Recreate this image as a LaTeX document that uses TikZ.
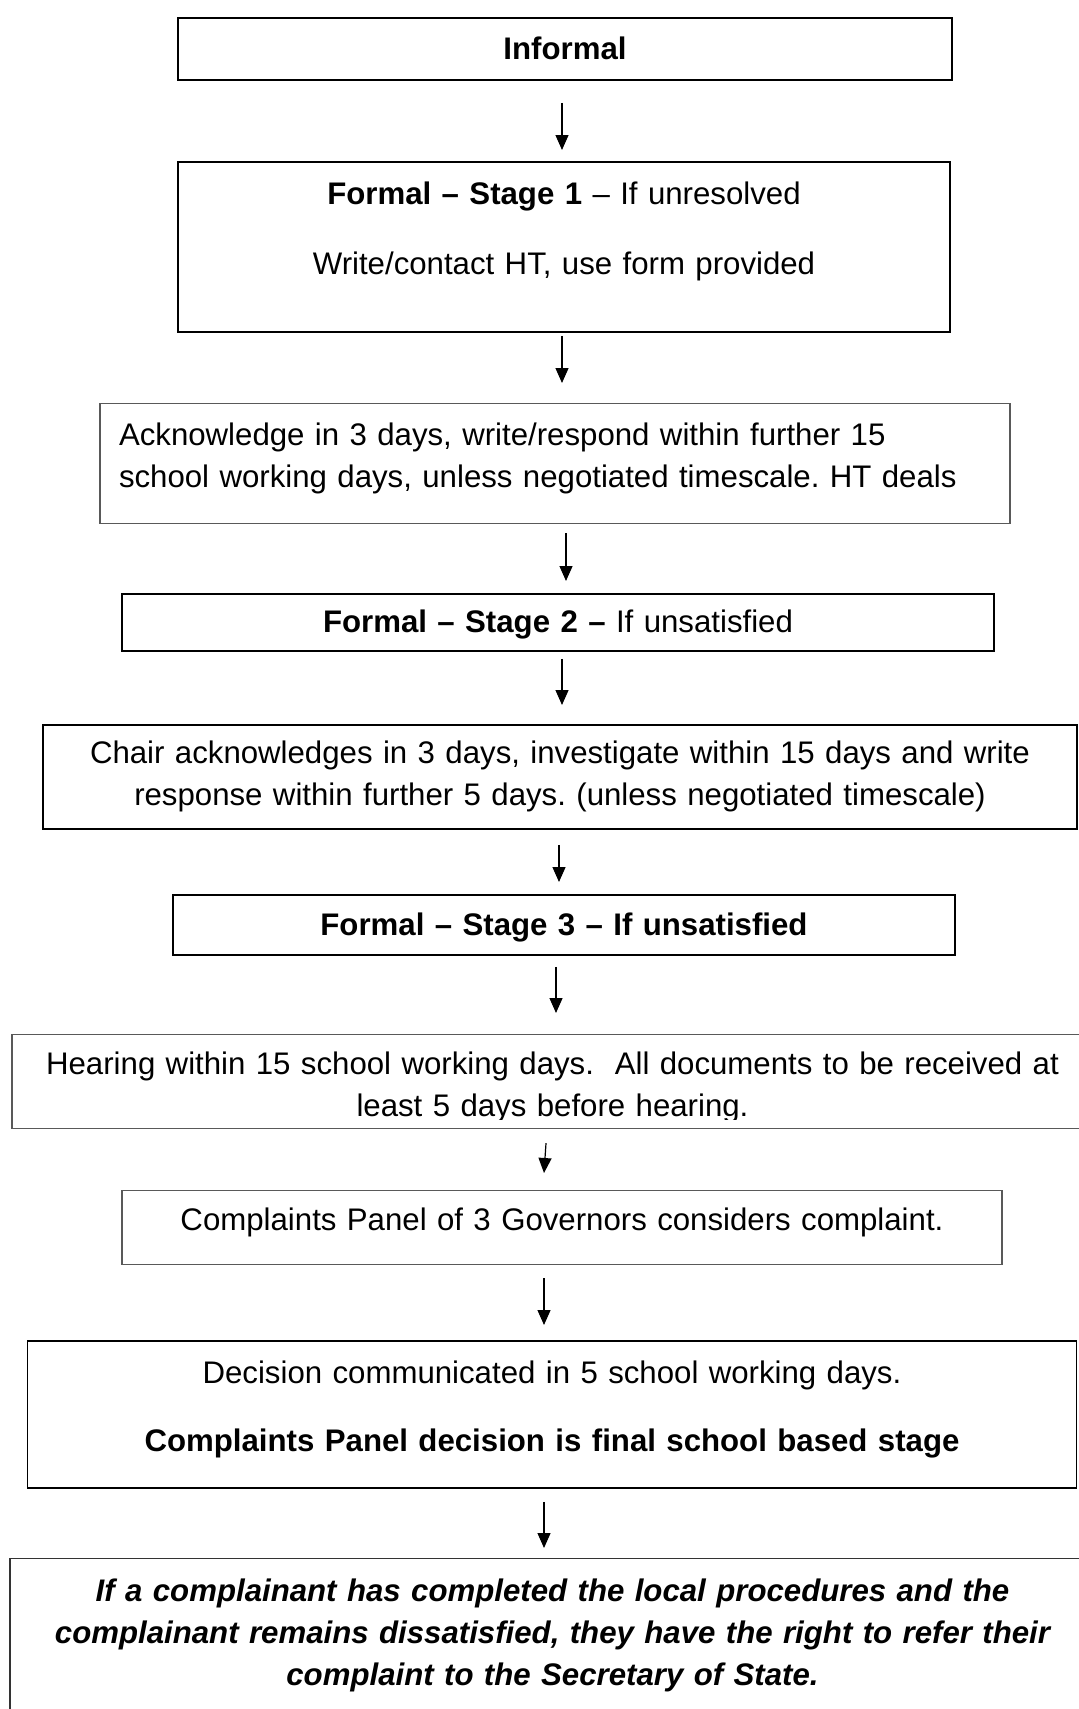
\documentclass[tikz,border=0pt]{standalone}
\usepackage{fontspec}
\setmainfont{Liberation Sans}
\usetikzlibrary{arrows.meta}

\begin{document}
\begin{tikzpicture}[x=0.5pt,y=-0.5pt,>={Triangle[length=7.5pt,width=6.5pt]},
    every node/.style={font=\fontsize{15.6}{21}\selectfont\frenchspacing,inner sep=0pt,anchor=north,align=center},
    stagebox/.style={draw,line width=0.9pt},
    notebox/.style={draw=black!65,line width=0.6pt},
    link/.style={->,line width=0.6pt}]
  \useasboundingbox (0,0) rectangle (1079,1709);
  % the boxes, top to bottom
  \node (inf) [stagebox,text width=387pt,text height=21pt,text depth=10pt] at (565,17) {\bfseries Informal};
  \node (st1) [stagebox,text width=386pt,text height=21.25pt,text depth=63.75pt] at (564,161)
    {{\bfseries Formal -- Stage 1} -- If unresolved\\[14pt] Write/contact HT, use form provided};
  \node (ack) [notebox,align=left,inner xsep=9.5pt,text width=436pt,text height=20.75pt,text depth=39.25pt] at (555,403)
    {Acknowledge in 3 days, write/respond within further 15\\ school working days, unless negotiated timescale. HT deals};
  \node (st2) [stagebox,text width=436pt,text height=19.25pt,text depth=9.25pt] at (558,593)
    {{\bfseries Formal -- Stage 2 --} If unsatisfied};
  \node (chair) [stagebox,text width=517pt,text height=19.5pt,text depth=32.5pt] at (560,724)
    {Chair acknowledges in 3 days, investigate within 15 days and write\\ response within further 5 days. (unless negotiated timescale)};
  \node (st3) [stagebox,text width=391pt,text height=20.5pt,text depth=9.5pt] at (564,894)
    {\bfseries Formal -- Stage 3 -- If unsatisfied};
  \node (hear) [notebox,text width=540.5pt,text height=20pt,text depth=27pt] at (552.5,1034)
    {Hearing within 15 school working days.\ \ All documents to be received at\\ least 5 days before hearing.};
  % second line is cut off by the box
  \fill[white] ([xshift=1pt,yshift=0.6pt]hear.south west) rectangle ([xshift=-1pt,yshift=4.5pt]hear.south east);
  \node (panel) [notebox,text width=440pt,text height=20pt,text depth=17pt] at (562,1190)
    {Complaints Panel of 3 Governors considers complaint.};
  \node (dec) [stagebox,text width=524.5pt,text height=21.5pt,text depth=52pt] at (552,1340)
    {Decision communicated in 5 school working days.\\[13pt] \bfseries Complaints Panel decision is final school based stage};
  \node (final) [notebox,draw=black!80,text width=542.5pt,text height=21.5pt,text depth=69.5pt] at (552.5,1558)
    {\bfseries\itshape If a complainant has completed the local procedures and the\\ complainant remains dissatisfied, they have the right to refer their\\ complaint to the Secretary of State.};
  % arrows
  \draw[link] ([xshift=-1.5pt,yshift=-11pt]inf.south) -- ([xshift=-1pt,yshift=5.5pt]st1.north);
  \draw[link] ([xshift=-1pt,yshift=-1.5pt]st1.south) -- ([xshift=3.5pt,yshift=10pt]ack.north);
  \draw[link] ([xshift=5.5pt,yshift=-4.5pt]ack.south) -- ([xshift=4pt,yshift=6pt]st2.north);
  \draw[link] ([xshift=2pt,yshift=-3.5pt]st2.south) -- ([xshift=1pt,yshift=9.5pt]chair.north);
  \draw[link] ([xshift=-0.5pt,yshift=-7.5pt]chair.south) -- ([xshift=-2.5pt,yshift=6pt]st3.north);
  \draw[link] ([xshift=-4pt,yshift=-5.5pt]st3.south) -- ([xshift=1.75pt,yshift=10.5pt]hear.north);
  \draw[link] ([xshift=-3.25pt,yshift=-7pt]hear.south) -- ([xshift=-9pt,yshift=8.5pt]panel.north);
  \draw[link] ([xshift=-9pt,yshift=-6.5pt]panel.south) -- ([xshift=-4pt,yshift=7.5pt]dec.north);
  \draw[link] ([xshift=-4pt,yshift=-6.5pt]dec.south) -- ([xshift=-4.25pt,yshift=5pt]final.north);
\end{tikzpicture}
\end{document}
